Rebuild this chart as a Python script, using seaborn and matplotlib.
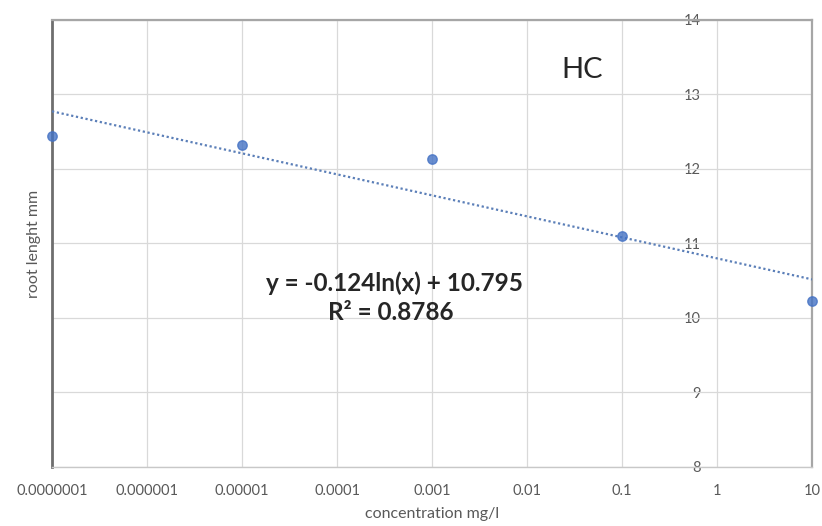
import matplotlib
matplotlib.use('Agg')
import matplotlib.pyplot as plt
import matplotlib.ticker as mticker
import seaborn as sns

# data
conc = [0.0000001, 0.00001, 0.001, 0.1, 10]
root_length = [12.44, 12.32, 12.14, 11.10, 10.23]
x_ticks = [1e-7, 1e-6, 1e-5, 1e-4, 1e-3, 1e-2, 1e-1, 1, 10]
x_labels = ['0.0000001', '0.000001', '0.00001', '0.0001', '0.001',
            '0.01', '0.1', '1', '10']
y_ticks = [8, 9, 10, 11, 12, 13, 14]
equation = 'y = -0.124ln(x) + 10.795'
r_squared = 'R² = 0.8786'

sns.set_style('white')
plt.rcParams['font.family'] = ['Lato', 'DejaVu Sans']

fig = plt.figure(figsize=(8.22, 5.26), dpi=100)
ax = fig.add_axes([0.0633, 0.1122, 0.9247, 0.8498])
ax.set_xscale('log')

blue = '#4472C4'
sns.regplot(x=conc, y=root_length, logx=True, ci=None, ax=ax,
            scatter_kws=dict(s=46, color=blue, zorder=4, clip_on=False),
            line_kws=dict(color='#5b7fb8', lw=1.6, ls=(0, (1, 1.2)), zorder=3))

ax.set_xlim(1e-7, 10)
ax.set_ylim(8, 14)

ax.xaxis.set_major_locator(mticker.FixedLocator(x_ticks))
ax.xaxis.set_minor_locator(mticker.NullLocator())
ax.set_xticklabels(x_labels)
ax.tick_params(axis='x', length=0, pad=12, labelsize=10.5, labelcolor='#595959')
ax.set_yticks(y_ticks)
ax.tick_params(axis='y', left=False, labelleft=False)

ax.grid(True, color='#d9d9d9', lw=0.9)
ax.set_axisbelow(True)

for side, col, lw in [('left', '#6e6e6e', 2.0), ('top', '#a6a6a6', 1.6),
                      ('right', '#a6a6a6', 1.6), ('bottom', '#c8c8c8', 1.0)]:
    ax.spines[side].set_visible(True)
    ax.spines[side].set_color(col)
    ax.spines[side].set_linewidth(lw)

# value axis sits inside the plot area, just left of x = 1
sec = ax.secondary_yaxis(0.857)
for sp in sec.spines.values():
    sp.set_visible(False)
sec.set_yticks(y_ticks)
sec.tick_params(axis='y', left=True, labelleft=True, right=False, labelright=False,
                length=0, pad=2, labelsize=10.5, labelcolor='#595959')

ax.set_ylabel('root lenght mm', fontsize=11.5, color='#595959', labelpad=8)
ax.set_xlabel('concentration mg/l', fontsize=11.5, color='#595959', labelpad=7)

ax.text(0.038, 13.33, 'HC', fontsize=21, color='#262626', ha='center', va='center')
ax.text(0.0004, 10.47, equation, fontsize=17.5, fontweight='bold',
        color='#262626', ha='center', va='center')
ax.text(0.00037, 10.07, r_squared, fontsize=17.5, fontweight='bold',
        color='#262626', ha='center', va='center')

fig.savefig('out.png', dpi=100)
